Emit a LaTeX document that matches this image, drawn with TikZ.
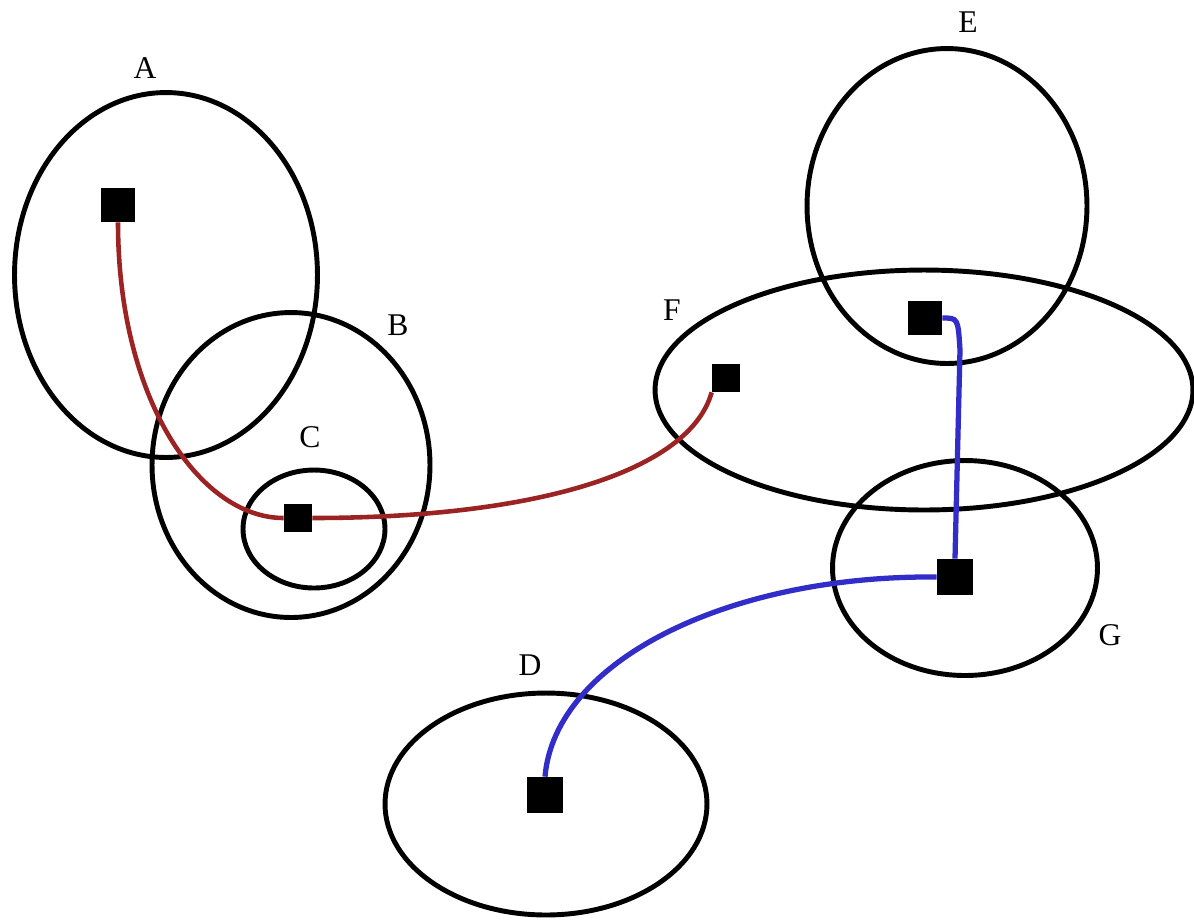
\documentclass[tikz,border=0pt]{standalone}
\usepackage{fontspec}
\setmainfont{Liberation Serif}
\usepackage{xcolor}
\usepackage{tikz}
\usetikzlibrary{shapes.geometric, positioning}

\definecolor{pathred}{RGB}{155,35,35}
\definecolor{pathblue}{RGB}{50,45,200}

\begin{document}
\begin{tikzpicture}[
  x=0.02cm, y=-0.02cm,
  set/.style={ellipse, draw, line width=2.8pt, inner sep=0pt},
  elem/.style={rectangle, fill=black, minimum size=0.64cm, inner sep=0pt},
  lbl/.style={font=\fontsize{18}{21}\selectfont},
  redpath/.style={draw=pathred, line width=2.6pt},
  bluepath/.style={draw=pathblue, line width=3pt}
]
\useasboundingbox (0,0) rectangle (1194,921);

% sets
\node[set, minimum width=6.06cm, minimum height=7.3cm] (setA) at (166,275) {};
\node[set, minimum width=5.56cm, minimum height=6.1cm] (setB) at (291,465) {};
\node[set, minimum width=2.84cm, minimum height=2.36cm] (setC) at (314,529) {};
\node[set, minimum width=6.44cm, minimum height=4.44cm] (setD) at (546,804) {};
\node[set, minimum width=5.6cm, minimum height=6.3cm] (setE) at (947,206) {};
\node[set, minimum width=10.76cm, minimum height=4.8cm] (setF) at (924,390) {};
\node[set, minimum width=5.3cm, minimum height=4.3cm] (setG) at (965,568) {};

% labels
\node[lbl] (labA) at (145,68) {A};
\node[lbl] (labB) at (398,325) {B};
\node[lbl] (labC) at (310,437) {C};
\node[lbl] (labD) at (530,665) {D};
\node[lbl] (labE) at (968,22) {E};
\node[lbl] (labF) at (672,310) {F};
\node[lbl] (labG) at (1110,635) {G};

% elements
\node[elem, minimum size=0.68cm] (eA) at (118,205) {};
\node[elem, minimum size=0.56cm] (eC) at (298,518) {};
\node[elem, minimum size=0.56cm] (eF) at (726,378) {};
\node[elem, minimum size=0.68cm] (eE) at (925,318) {};
\node[elem, minimum size=0.72cm] (eG) at (955,577) {};
\node[elem, minimum size=0.72cm] (eD) at (545,795) {};

% paths
\draw[redpath] (eA.south) .. controls (118,400) and (200,518) .. (eC.west);
\draw[redpath] (eC.east) .. controls (540,518) and (690,470) .. (eF.south west);
\draw[bluepath] (eE.east) .. controls (958,318) .. (960,350) -- (eG.north);
\draw[bluepath] (eG.west) .. controls (730,575) and (555,660) .. (eD.north);
\end{tikzpicture}
\end{document}
